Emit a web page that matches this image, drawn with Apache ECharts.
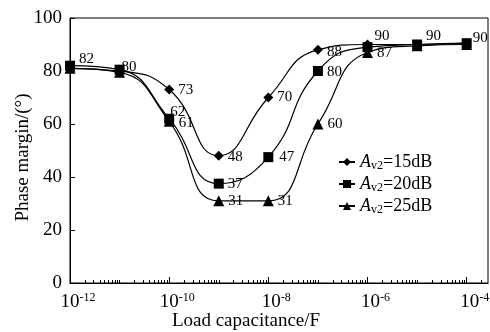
<!DOCTYPE html>
<html>
<head>
<meta charset="utf-8">
<script src="https://cdn.jsdelivr.net/npm/echarts@6/dist/echarts.min.js"></script>
<style>
  html, body { margin: 0; padding: 0; background: #fff; }
  #chart { width: 490px; height: 332px; }
</style>
</head>
<body>
<div id="chart"></div>
<script>
// load capacitance in F
const capacitance = [1e-12, 1e-11, 1e-10, 1e-9, 1e-8, 1e-7, 1e-6, 1e-5, 1e-4];
// phase margin in degrees
const pm15 = [81, 80, 73, 48, 70, 88, 90, 90, 90.5];
const pm20 = [82, 80.5, 62, 37.5, 47.5, 80, 89, 90, 90.5];
const pm25 = [81, 79.5, 61, 31, 31, 60, 87, 89.5, 90];
const seriesNames = ['15dB', '20dB', '25dB'];
const labelTexts15 = [null, null, '73', '48', '70', '88', '90', null, null];
const labelTexts20 = ['82', '80', '62', '37', '47', '80', null, '90', '90'];
const labelTexts25 = [null, null, '61', '31', '31', '60', '87', null, null];
const xLabelExps = [-12, -10, -8, -6, -4];
const yTicks = [0, 20, 40, 60, 80, 100];

// label nudges (px), per point
const offs15 = [null, null, [0, 1], [0, 1], [0, 0], [0, 2], [-2, -8], null, null];
const offs20 = [[0, -7], [-7, -3], [-8, -7], [0, 0], [2, 0], [0, 1], null, [0, -8], [-3, -5]];
const offs25 = [null, null, [0, 2], [0, 0], [0, 0], [0, 0], [0, 1], null, null];

const FONT = 'Liberation Serif';
const chart = echarts.init(document.getElementById('chart'));

function buildData(vals, texts, offs) {
  return vals.map((v, i) => {
    const item = { value: [Math.log10(capacitance[i]), v] };
    if (texts[i]) {
      item.label = {
        show: true,
        position: 'right',
        distance: 4,
        offset: offs[i],
        formatter: texts[i]
      };
    }
    return item;
  });
}

// minor ticks at k*10^n, major ticks at even decades
const minorTicks = [];
for (let n = -12; n <= -4; n++) {
  for (let k = 1; k <= 9; k++) {
    if (k === 1 && n % 2 === 0) continue;
    const v = Math.log10(k) + n;
    if (v <= -3.57) minorTicks.push(v);
  }
}

const symbols = ['diamond', 'rect', 'triangle'];
const symbolSizes = [10, 10, 11];
const allData = [
  buildData(pm15, labelTexts15, offs15),
  buildData(pm20, labelTexts20, offs20),
  buildData(pm25, labelTexts25, offs25)
];

const option = {
  animation: false,
  textStyle: { fontFamily: FONT, color: '#000' },
  grid: {
    left: 70, right: 2, top: 18, bottom: 49,
    outerBoundsMode: 'none',
    show: true, borderColor: '#000', borderWidth: 1
  },
  legend: {
    orient: 'vertical',
    left: 333,
    top: 148,
    itemWidth: 16,
    itemHeight: 10,
    itemGap: 3,
    data: seriesNames,
    formatter: name => '{i|A}{s|v2}{n|=' + name + '}',
    textStyle: {
      fontFamily: FONT,
      color: '#000',
      rich: {
        i: { fontFamily: FONT, fontStyle: 'italic', fontSize: 18, color: '#000', lineHeight: 20 },
        s: { fontFamily: FONT, fontSize: 12, color: '#000', verticalAlign: 'bottom', padding: [7, 0, 0, 0], lineHeight: 20 },
        n: { fontFamily: FONT, fontSize: 18, color: '#000', lineHeight: 20 }
      }
    }
  },
  xAxis: [{
    type: 'value',
    min: -12,
    max: -3.57,
    name: 'Load capacitance/F',
    nameLocation: 'middle',
    nameGap: 29,
    nameMoveOverlap: false,
    nameTextStyle: { fontFamily: FONT, fontSize: 19, color: '#000', padding: [0, 66, 0, 0] },
    axisLine: { lineStyle: { color: '#000', width: 1 } },
    splitLine: { show: false },
    axisTick: { inside: true, length: 3, customValues: minorTicks, lineStyle: { color: '#000' } },
    axisLabel: {
      customValues: xLabelExps,
      margin: 9,
      padding: [0, 0, 0, 16],
      formatter: v => '{b|10}{s|' + Math.round(v) + '}',
      rich: {
        b: { fontFamily: FONT, fontSize: 19, color: '#000' },
        s: { fontFamily: FONT, fontSize: 12, color: '#000', verticalAlign: 'top', padding: [0, 0, 8, 0] }
      }
    }
  }, {
    type: 'value',
    position: 'bottom',
    min: -12,
    max: -3.57,
    axisLine: { show: false },
    splitLine: { show: false },
    axisLabel: { show: false },
    axisTick: { inside: true, length: 6, customValues: xLabelExps, lineStyle: { color: '#000' } }
  }],
  yAxis: {
    type: 'value',
    min: 0,
    max: 100,
    interval: 20,
    name: 'Phase margin/(°)',
    nameLocation: 'middle',
    nameGap: 37,
    nameMoveOverlap: false,
    nameTextStyle: { fontFamily: FONT, fontSize: 19, color: '#000', padding: [0, 14, 0, 0] },
    axisLine: { show: true, lineStyle: { color: '#000', width: 1 } },
    splitLine: { show: false },
    axisTick: { show: true, inside: true, length: 5, lineStyle: { color: '#000' } },
    axisLabel: { fontFamily: FONT, fontSize: 19, color: '#000', margin: 8, customValues: yTicks }
  },
  series: seriesNames.map((name, si) => ({
    name: name,
    type: 'line',
    smooth: 0.5,
    symbol: symbols[si],
    symbolSize: symbolSizes[si],
    itemStyle: { color: '#000' },
    lineStyle: { color: '#000', width: 1.2 },
    label: { fontFamily: FONT, fontSize: 15, color: '#000' },
    data: allData[si]
  }))
};

chart.setOption(option);
</script>
</body>
</html>
